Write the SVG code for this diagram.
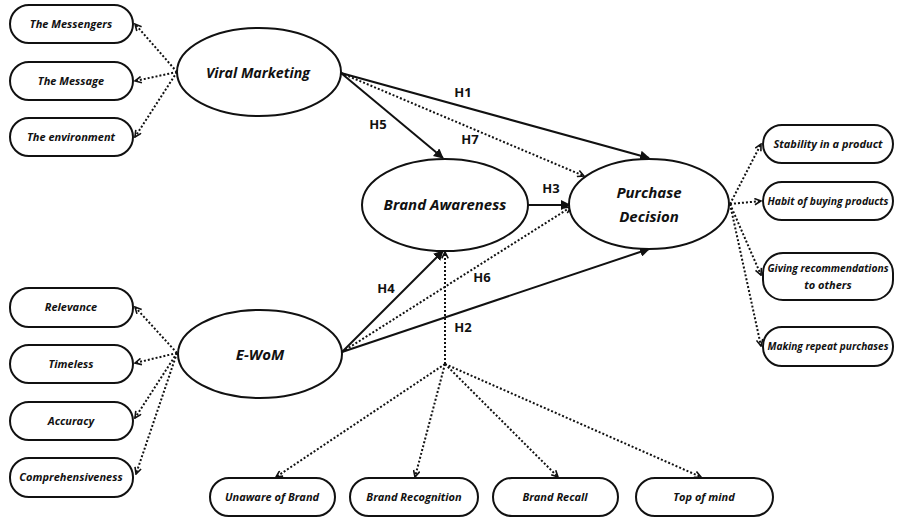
<svg xmlns="http://www.w3.org/2000/svg" width="899" height="519" viewBox="0 0 899 519">
<defs>
<style>
.box{fill:#fff;stroke:#111;stroke-width:2}
.ell{fill:#fff;stroke:#111;stroke-width:2}
.bt{font-family:"Open Sans","Noto Sans",sans-serif;font-weight:bold;font-style:italic;font-size:11px;fill:#111;text-anchor:middle}
.et{font-family:"Open Sans","Noto Sans",sans-serif;font-weight:bold;font-style:italic;font-size:15px;fill:#111;text-anchor:middle}
.ht{font-family:"Open Sans","Noto Sans",sans-serif;font-weight:bold;font-size:13px;fill:#111;text-anchor:middle}
.sol{stroke:#111;stroke-width:2;fill:none;marker-end:url(#fa)}
.dot{stroke:#111;stroke-width:2;stroke-dasharray:2 2;fill:none;marker-end:url(#oa)}
</style>
<marker id="fa" viewBox="0 0 10 10" refX="9" refY="5" markerWidth="5" markerHeight="5" orient="auto" markerUnits="strokeWidth">
<path d="M0,0 L10,5 L0,10 z" fill="#111"/>
</marker>
<marker id="oa" viewBox="0 0 10 10" refX="9" refY="5" markerWidth="4" markerHeight="4" orient="auto" markerUnits="strokeWidth">
<path d="M1,1 L9,5 L1,9" fill="none" stroke="#111" stroke-width="2"/>
</marker>
</defs>
<rect width="899" height="519" fill="#fff"/>

<g id="connectors">
<path class="dot" d="M177,72 L135,24"/>
<path class="dot" d="M177,72 L135,81"/>
<path class="dot" d="M177,72 L135,137"/>
<path class="dot" d="M177,353 L135,307"/>
<path class="dot" d="M177,353 L135,363"/>
<path class="dot" d="M177,353 L135,418"/>
<path class="dot" d="M177,353 L136,474"/>
<path class="dot" d="M730,204 L761,144"/>
<path class="dot" d="M730,204 L761,201"/>
<path class="dot" d="M730,204 L761,275"/>
<path class="dot" d="M730,204 L761,346"/>
<path class="sol" d="M341,73 L649,158"/>
<path class="sol" d="M341,73 L443,158"/>
<path class="dot" d="M341,73 L584,176"/>
<path class="sol" d="M528,205 L570,205"/>
<path class="sol" d="M342,352 L443,251"/>
<path class="dot" d="M342,352 L571,207"/>
<path class="sol" d="M342,352 L649,249"/>
<path class="dot" d="M445,364 L445,252"/>
<path class="dot" d="M445,364 L276,477"/>
<path class="dot" d="M445,364 L415,477"/>
<path class="dot" d="M445,364 L558,477"/>
<path class="dot" d="M445,364 L701,477"/>
<text class="ht" x="463" y="97">H1</text>
<text class="ht" x="378" y="129">H5</text>
<text class="ht" x="470" y="144">H7</text>
<text class="ht" x="551" y="193">H3</text>
<text class="ht" x="386" y="293">H4</text>
<text class="ht" x="482" y="282">H6</text>
<text class="ht" x="463" y="332">H2</text>
</g>

<g id="viral-marketing"><ellipse class="ell" cx="259" cy="72" rx="82" ry="44"/><text class="et" x="258" y="78" textLength="104" lengthAdjust="spacingAndGlyphs">Viral Marketing</text></g>
<g id="brand-awareness"><ellipse class="ell" cx="445" cy="205" rx="83" ry="46"/><text class="et" x="445" y="210">Brand Awareness</text></g>
<g id="purchase-decision"><ellipse class="ell" cx="649" cy="204" rx="80" ry="45"/><text class="et" x="649" y="198">Purchase</text><text class="et" x="649" y="222">Decision</text></g>
<g id="e-wom"><ellipse class="ell" cx="260" cy="354" rx="82" ry="44"/><text class="et" x="260" y="360">E-WoM</text></g>

<g id="the-messengers"><rect class="box" x="10" y="5" width="123" height="38" rx="19"/><text class="bt" x="71" y="28">The Messengers</text></g>
<g id="the-message"><rect class="box" x="10" y="62" width="123" height="38" rx="19"/><text class="bt" x="71" y="85">The Message</text></g>
<g id="the-environment"><rect class="box" x="10" y="118" width="123" height="38" rx="19"/><text class="bt" x="71" y="141">The environment</text></g>

<g id="relevance"><rect class="box" x="10" y="288" width="123" height="39" rx="19"/><text class="bt" x="71" y="311">Relevance</text></g>
<g id="timeless"><rect class="box" x="10" y="345" width="123" height="38" rx="19"/><text class="bt" x="71" y="368">Timeless</text></g>
<g id="accuracy"><rect class="box" x="10" y="402" width="123" height="38" rx="19"/><text class="bt" x="71" y="425">Accuracy</text></g>
<g id="comprehensiveness"><rect class="box" x="10" y="458" width="123" height="39" rx="19"/><text class="bt" x="71" y="481">Comprehensiveness</text></g>

<g id="stability"><rect class="box" x="763" y="125" width="130" height="38" rx="19"/><text class="bt" x="828" y="148">Stability in a product</text></g>
<g id="habit"><rect class="box" x="763" y="182" width="130" height="38" rx="19"/><text class="bt" x="828" y="205" textLength="121" lengthAdjust="spacingAndGlyphs">Habit of buying products</text></g>
<g id="giving"><rect class="box" x="763" y="253" width="130" height="47" rx="20"/><text class="bt" x="828" y="272" textLength="121" lengthAdjust="spacingAndGlyphs">Giving recommendations</text><text class="bt" x="828" y="289">to others</text></g>
<g id="making"><rect class="box" x="763" y="327" width="130" height="39" rx="19"/><text class="bt" x="828" y="350" textLength="121" lengthAdjust="spacingAndGlyphs">Making repeat purchases</text></g>

<g id="unaware"><rect class="box" x="210" y="478" width="125" height="38" rx="19"/><text class="bt" x="272" y="501">Unaware of Brand</text></g>
<g id="recognition"><rect class="box" x="350" y="478" width="128" height="38" rx="19"/><text class="bt" x="414" y="501">Brand Recognition</text></g>
<g id="recall"><rect class="box" x="493" y="478" width="125" height="38" rx="19"/><text class="bt" x="555" y="501">Brand Recall</text></g>
<g id="top-of-mind"><rect class="box" x="636" y="478" width="137" height="38" rx="19"/><text class="bt" x="704" y="501">Top of mind</text></g>
</svg>
